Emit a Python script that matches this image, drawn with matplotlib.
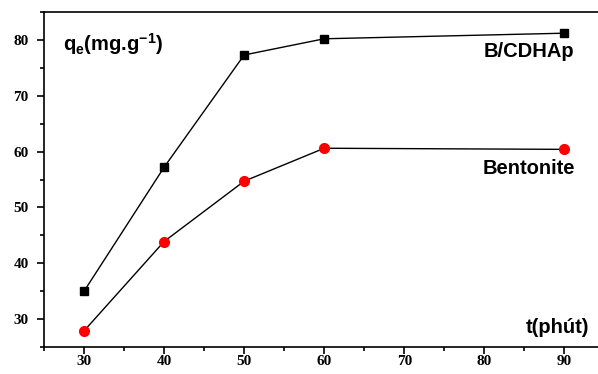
import matplotlib
matplotlib.use('Agg')
import matplotlib.pyplot as plt
from matplotlib.ticker import MultipleLocator

t = [30, 40, 50, 60, 90]
q_bcdhap = [35.0, 57.2, 77.3, 80.2, 81.2]
q_bentonite = [27.9, 43.9, 54.7, 60.6, 60.4]

plt.rcParams['mathtext.fontset'] = 'custom'
plt.rcParams['mathtext.rm'] = 'Liberation Sans:bold'
plt.rcParams['mathtext.it'] = 'Liberation Sans:bold'
plt.rcParams['mathtext.bf'] = 'Liberation Sans:bold'

fig = plt.figure(figsize=(5.98, 3.74), dpi=100)
ax = fig.add_axes([0.0736, 0.072, 0.9264, 0.896])

ax.plot(t, q_bcdhap, color='black', lw=1, marker='s', markersize=6,
        markerfacecolor='black', markeredgecolor='black')
ax.plot(t, q_bentonite, color='black', lw=1, marker='o', markersize=7,
        markerfacecolor='red', markeredgecolor='red')

ax.set_xlim(25, 94.2)
ax.set_ylim(25, 85)
ax.xaxis.set_minor_locator(MultipleLocator(5))
ax.yaxis.set_minor_locator(MultipleLocator(5))
ax.set_xticks(range(30, 100, 10))
ax.set_yticks(range(30, 90, 10))

ax.spines['right'].set_visible(False)
for s in ['left', 'bottom', 'top']:
    ax.spines[s].set_linewidth(1.2)
ax.tick_params(which='both', direction='out', width=1.2)
ax.tick_params(which='major', length=5)
ax.tick_params(which='minor', length=3)
ax.tick_params(axis='x', pad=1)
ax.tick_params(axis='y', pad=6)
ax.tick_params(top=False, right=False)

for lab in ax.get_xticklabels() + ax.get_yticklabels():
    lab.set_fontfamily('Liberation Serif')
    lab.set_fontweight('bold')
    lab.set_fontsize(11)

sans = dict(family='Liberation Sans', fontweight='bold', fontsize=14.5)
ax.text(0.034, 0.905, r'q$_\mathregular{e}$(mg.g$^\mathregular{-1}$)',
        transform=ax.transAxes, ha='left', va='center', **sans)
ax.text(0.985, 0.03, 't(phút)', transform=ax.transAxes, ha='right',
        va='bottom', **sans)
ax.text(85.6, 78.0, 'B/CDHAp', ha='center', va='center', **sans)
ax.text(85.6, 56.9, 'Bentonite', ha='center', va='center', **sans)

fig.savefig('out.png', dpi=100)
